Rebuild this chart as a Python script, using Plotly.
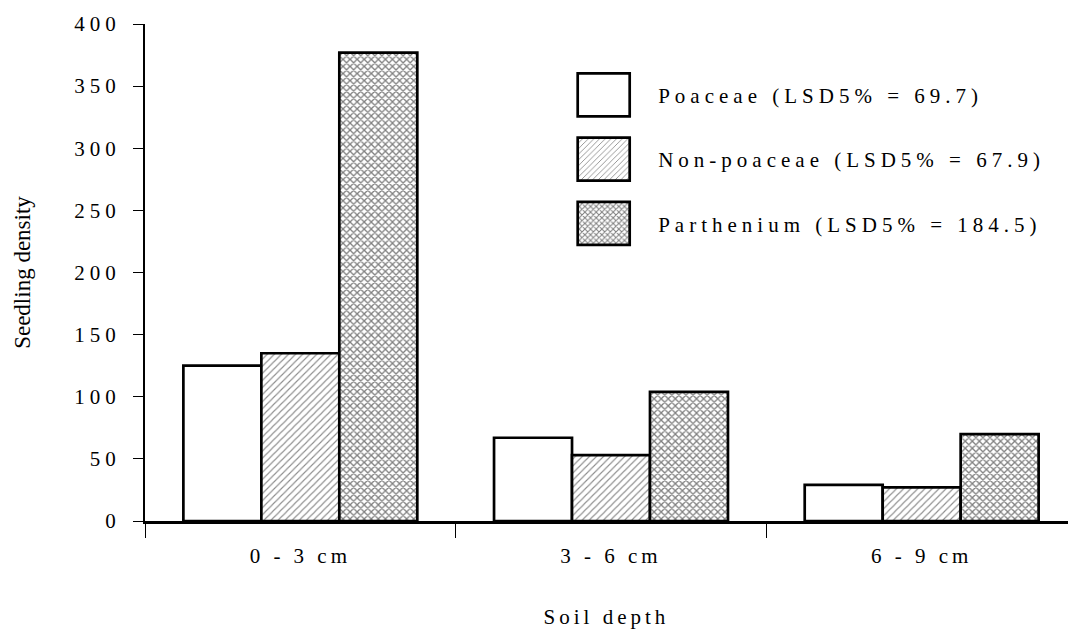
import plotly.graph_objects as go

categories = ["0 - 3 cm", "3 - 6 cm", "6 - 9 cm"]
poaceae = [125, 67, 29]
non_poaceae = [135, 53, 27]
parthenium = [377, 104, 70]
series_names = [
    "Poaceae (LSD5% = 69.7)",
    "Non-poaceae (LSD5% = 67.9)",
    "Parthenium (LSD5% = 184.5)",
]
y_ticks = [0, 50, 100, 150, 200, 250, 300, 350, 400]

FONT = "'Liberation Serif', 'Times New Roman', serif"

patterns = [
    dict(shape=""),
    dict(shape="/", size=5, solidity=0.22, fgcolor="#1a1a1a", bgcolor="white"),
    dict(shape="x", size=5, solidity=0.45, fgcolor="#000000", bgcolor="white"),
]

fig = go.Figure()
for i, (name, vals) in enumerate(zip(series_names, [poaceae, non_poaceae, parthenium])):
    fig.add_trace(go.Bar(
        x=categories, y=vals, name=name, legendgroup=f"g{i}",
        marker=dict(color="white", line=dict(color="black", width=2.7),
                    pattern=patterns[i]),
        hoverinfo="skip",
    ))

fig.update_layout(
    width=1068, height=629,
    margin=dict(l=145, r=0, t=24, b=108, autoexpand=False),
    paper_bgcolor="white", plot_bgcolor="white",
    barmode="group", bargap=0.247, bargroupgap=0,
    font=dict(family=FONT, size=21, color="black"),
    showlegend=True,
    legend=dict(
        x=0.4585, y=0.898, xanchor="left", yanchor="top",
        traceorder="grouped", tracegroupgap=34, itemwidth=80,
        font=dict(family=FONT, size=21, color="black"),
        bgcolor="rgba(0,0,0,0)",
    ),
    xaxis=dict(
        range=[-0.5, 2.471], showline=True, linecolor="black", linewidth=2.5,
        ticks="outside", tickson="boundaries", ticklen=14, tickwidth=1.2, tickcolor="black",
        showgrid=False, zeroline=False, automargin=False, ticklabelstandoff=14,
        title=dict(text="Soil depth", standoff=54, font=dict(family=FONT, size=21)),
    ),
    yaxis=dict(
        range=[0, 400], tickvals=y_ticks, showline=True, linecolor="black", linewidth=2,
        ticks="outside", ticklen=10, tickwidth=1.2, tickcolor="black",
        showgrid=False, zeroline=False, ticklabelstandoff=8, automargin=False,
        title=dict(text="Seedling density", standoff=52, font=dict(family=FONT, size=23)),
    ),
)

post = """
(function(){
  document.documentElement.style.margin = '0';
  document.body.style.margin = '0';
  document.body.style.padding = '0';
  var st = document.createElement('style');
  st.textContent = 'html, body {margin:0; padding:0; overflow:hidden;} .ytick text, .legendtext {letter-spacing: 5px;} .xtick text, .g-xtitle text {letter-spacing: 4px;}';
  document.head.appendChild(st);
  var gd = document.getElementById('{plot_id}');
  function fix(){
    document.querySelectorAll('.legend .legendpoints path').forEach(function(p){
      p.setAttribute('d','M16.5,21.5H-35.5V-21.5H16.5Z');
    });
    document.querySelectorAll('.legend [clip-path], .legend .scrollbox').forEach(function(e){
      e.removeAttribute('clip-path');
    });
    document.querySelectorAll('.legend clipPath rect').forEach(function(r){
      r.setAttribute('width', 2000); r.setAttribute('height', 2000);
      r.setAttribute('x', -500); r.setAttribute('y', -500);
    });
  }
  fix();
  if (gd && gd.on) gd.on('plotly_afterplot', fix);
})();
"""

fig.write_html("out.html", post_script=post, config={"displayModeBar": False})
